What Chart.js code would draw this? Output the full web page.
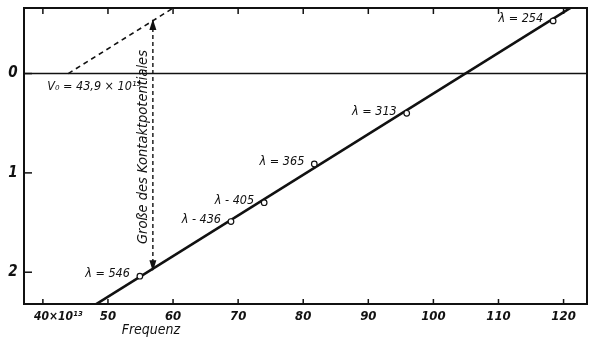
<!DOCTYPE html>
<html><head><meta charset="utf-8">
<script src="https://cdn.jsdelivr.net/npm/chart.js@4.4.1/dist/chart.umd.min.js"></script>
<style>html,body{margin:0;padding:0;background:#fff}#wrap{width:597px;height:342px;position:relative}</style>
</head><body><div id="wrap"><canvas id="c"></canvas></div>
<script>
// ---- data ----
const wavelengths = [546, 436, 405, 365, 313, 254];
const pointLabels = ['λ = 546', 'λ - 436', 'λ - 405', 'λ = 365', 'λ = 313', 'λ = 254'];
const frequencies = [54.9, 68.9, 74.0, 81.7, 95.9, 118.4];   // ×10^13 Hz
const voltages    = [2.04, 1.49, 1.30, 0.91, 0.40, -0.53];   // V (downwards positive)
const fitFreq  = [47.0, 122.5];
const fitVolt  = [2.37, -0.72];
const dashFreq = [43.9, 61.0];
const dashVolt = [0.0, -0.70];
const arrowFreq = [56.9, 56.9];
const arrowVolt = [-0.53, 1.97];
const xTicks = [40, 50, 60, 70, 80, 90, 100, 110, 120];
const yTicks = [0, 1, 2];
const xTickSuffix = '×10¹³';
const v0Label = 'V₀ = 43,9 × 10¹³';
const xTitle = 'Frequenz';
const arrowText = 'Große des Kontaktpotentiales';

const FONT = "'DejaVu Sans Condensed','DejaVu Sans',sans-serif";
const toXY = (xs, ys) => xs.map((x, i) => ({x, y: ys[i]}));

const overlay = {
  id: 'overlay',
  beforeDatasetsDraw(chart) {
    const {ctx, chartArea: a, scales: {x, y}} = chart;
    ctx.save();
    ctx.strokeStyle = '#111';
    ctx.lineWidth = 1.6;
    const y0 = y.getPixelForValue(0);
    ctx.beginPath(); ctx.moveTo(a.left, y0); ctx.lineTo(a.right, y0); ctx.stroke();
    ctx.restore();
  },
  afterDatasetsDraw(chart) {
    const {ctx, chartArea: a, scales: {x, y}} = chart;
    ctx.save();
    ctx.strokeStyle = '#111';
    ctx.fillStyle = '#111';
    // frame
    ctx.lineWidth = 2;
    ctx.strokeRect(a.left, a.top, a.right - a.left, a.bottom - a.top);
    // x ticks (bottom up, top down)
    ctx.lineWidth = 1.5;
    xTicks.forEach(v => {
      const px = x.getPixelForValue(v);
      ctx.beginPath();
      ctx.moveTo(px, a.bottom); ctx.lineTo(px, a.bottom - 5);
      ctx.moveTo(px, a.top); ctx.lineTo(px, a.top + 6);
      ctx.stroke();
    });
    // y ticks inward
    yTicks.forEach(v => {
      const py = y.getPixelForValue(v);
      ctx.beginPath(); ctx.moveTo(a.left, py); ctx.lineTo(a.left + 8, py); ctx.stroke();
    });
    // x tick labels
    ctx.textBaseline = 'middle';
    xTicks.forEach((v, i) => {
      const px = x.getPixelForValue(v);
      if (i === 0) {
        ctx.font = `italic bold 12px ${FONT}`;
        ctx.textAlign = 'left';
        ctx.fillText(String(v) + xTickSuffix, px - 9, a.bottom + 13);
      } else {
        ctx.font = `italic bold 13px ${FONT}`;
        ctx.textAlign = 'center';
        ctx.fillText(String(v), px, a.bottom + 13);
      }
    });
    // y tick labels
    ctx.font = `italic bold 15px ${FONT}`;
    ctx.textAlign = 'center';
    yTicks.forEach(v => {
      ctx.fillText(String(v), a.left - 11, y.getPixelForValue(v));
    });
    // x title
    ctx.font = `italic 14px ${FONT}`;
    ctx.fillText(xTitle, x.getPixelForValue(56.6), a.bottom + 26);
    // V0 label
    ctx.font = `italic 12.5px ${FONT}`;
    ctx.textAlign = 'left';
    ctx.fillText(v0Label, x.getPixelForValue(dashFreq[0]) - 21, y.getPixelForValue(0) + 13);
    // point labels
    ctx.textAlign = 'right';
    frequencies.forEach((f, i) => {
      ctx.fillText(pointLabels[i], x.getPixelForValue(f) - 10, y.getPixelForValue(voltages[i]) - 2);
    });
    // arrow heads
    const ax = x.getPixelForValue(arrowFreq[0]);
    const ayTop = y.getPixelForValue(arrowVolt[0]);
    const ayBot = y.getPixelForValue(arrowVolt[1]);
    ctx.beginPath();
    ctx.moveTo(ax, ayTop - 2); ctx.lineTo(ax - 3.5, ayTop + 9); ctx.lineTo(ax + 3.5, ayTop + 9); ctx.closePath(); ctx.fill();
    ctx.beginPath();
    ctx.moveTo(ax, ayBot + 2); ctx.lineTo(ax - 3.5, ayBot - 9); ctx.lineTo(ax + 3.5, ayBot - 9); ctx.closePath(); ctx.fill();
    // rotated arrow text
    ctx.save();
    ctx.translate(ax - 10, (ayTop + ayBot) / 2 + 2);
    ctx.rotate(-Math.PI / 2);
    ctx.textAlign = 'center';
    ctx.font = `italic 14.5px ${FONT}`;
    ctx.fillText(arrowText, 0, 0);
    ctx.restore();
    ctx.restore();
  }
};

new Chart(document.getElementById('c'), {
  type: 'scatter',
  data: {
    datasets: [
      {label: 'Messpunkte', data: toXY(frequencies, voltages), showLine: false,
       pointRadius: 2.8, pointStyle: 'circle', pointBackgroundColor: '#fff',
       pointBorderColor: '#111', pointBorderWidth: 1.2, order: 0},
      {label: 'Gerade', data: toXY(fitFreq, fitVolt), showLine: true, borderColor: '#111',
       borderWidth: 2.6, pointRadius: 0, order: 2},
      {label: 'Parallele', data: toXY(dashFreq, dashVolt), showLine: true, borderColor: '#111',
       borderWidth: 1.6, borderDash: [5, 4], pointRadius: 0, order: 3},
      {label: 'Kontaktpotential', data: toXY(arrowFreq, arrowVolt), showLine: true, borderColor: '#111',
       borderWidth: 1.4, borderDash: [4, 3], pointRadius: 0, order: 4}
    ]
  },
  options: {
    responsive: true, maintainAspectRatio: false, animation: false,
    layout: {padding: {left: 24, top: 8, right: 10, bottom: 38}},
    plugins: {legend: {display: false}, tooltip: {enabled: false}},
    scales: {
      x: {type: 'linear', min: 37.1, max: 123.6, display: false},
      y: {type: 'linear', reverse: true, min: -0.66, max: 2.32, display: false}
    }
  },
  plugins: [overlay]
});
</script>
</body></html>
